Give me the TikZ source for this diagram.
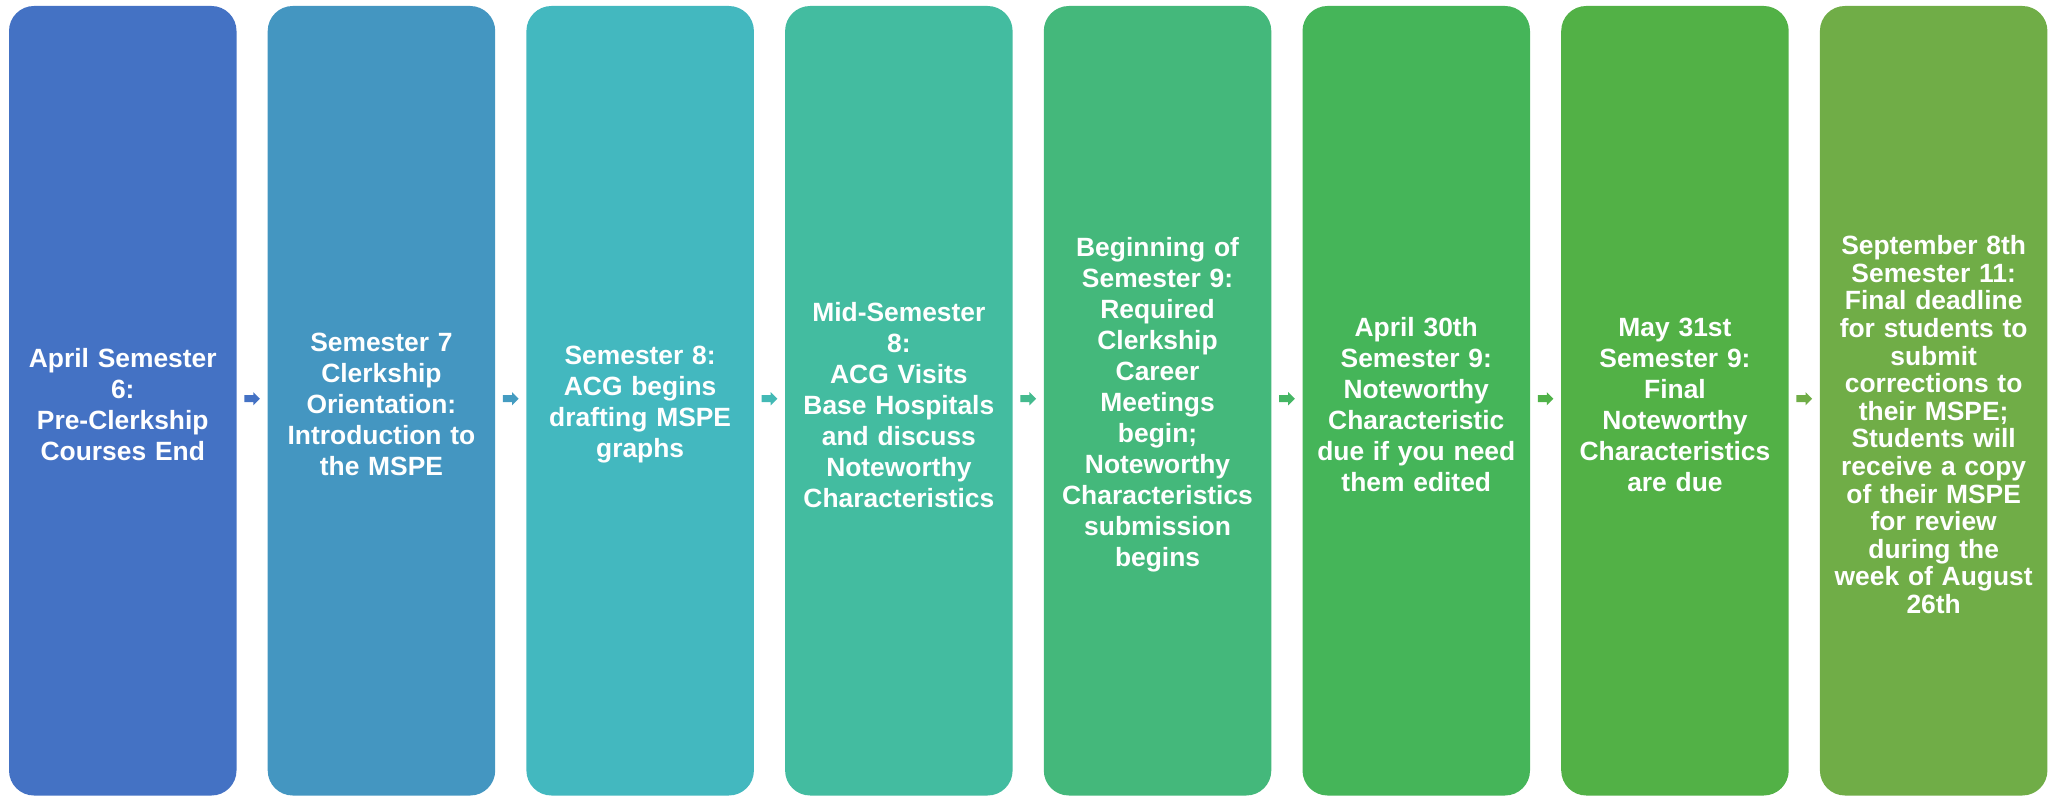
\documentclass[tikz,border=0pt]{standalone}
\usepackage{fontspec}
\setmainfont{Liberation Sans}
\usetikzlibrary{calc}
\definecolor{c1}{HTML}{4472C4}
\definecolor{c2}{HTML}{4496C1}
\definecolor{c3}{HTML}{43B8BF}
\definecolor{c4}{HTML}{43BCA0}
\definecolor{c5}{HTML}{44B87B}
\definecolor{c6}{HTML}{45B559}
\definecolor{c7}{HTML}{52B146}
\definecolor{c8}{HTML}{70AD47}
\colorlet{a1}{c1}
\colorlet{a2}{c2!83!c3}
\colorlet{a3}{c3!67!c4}
\colorlet{a4}{c4!50!c5}
\colorlet{a5}{c5!33!c6}
\colorlet{a6}{c6!17!c7}
\colorlet{a7}{c8}
\tikzset{
  stagebox/.style={rounded corners=25pt, minimum width=227.5pt, minimum height=789.5pt,
    inner sep=0pt},
  stagetext/.style={inner sep=0pt, text width=222pt, align=center, text=white,
    font=\fontsize{26.4}{31}\selectfont\bfseries}
}
\begin{document}
\begin{tikzpicture}[x=1pt,y=1pt]
\useasboundingbox (0,0) rectangle (2049,796);
\foreach \k/\x in {1/122.75,2/381.45,3/640.15,4/898.85,5/1157.55,6/1416.25,7/1674.95,8/1933.65}{
  \node[stagebox, fill=c\k] (b\k) at (\x,395.25) {};
}
\node[stagetext] (t1) at ($(b1.center)+(0,-4)$) {April Semester\\6:\\Pre-Clerkship\\Courses End};
\node[stagetext] (t2) at ($(b2.center)+(0,-4)$) {Semester 7\\Clerkship\\Orientation:\\Introduction to\\the MSPE};
\node[stagetext] (t3) at ($(b3.center)+(0,-4)$) {Semester 8:\\ACG begins\\drafting MSPE\\graphs};
\node[stagetext] (t4) at ($(b4.center)+(0,-4)$) {Mid-Semester\\8:\\ACG Visits\\Base Hospitals\\and discuss\\Noteworthy\\Characteristics};
\node[stagetext] (t5) at ($(b5.center)+(0,-4)$) {Beginning of\\Semester 9:\\Required\\Clerkship\\Career\\Meetings\\begin;\\Noteworthy\\Characteristics\\submission\\begins};
\node[stagetext] (t6) at ($(b6.center)+(0,-4)$) {April 30th\\Semester 9:\\Noteworthy\\Characteristic\\due if you need\\them edited};
\node[stagetext] (t7) at ($(b7.center)+(0,-4)$) {May 31st\\Semester 9:\\Final\\Noteworthy\\Characteristics\\are due};
\node[stagetext, font=\fontsize{26.4}{27.6}\selectfont\bfseries] (t8) at ($(b8.center)+(0,-24)$) {September 8th\\Semester 11:\\Final deadline\\for students to\\submit\\corrections to\\their MSPE;\\Students will\\receive a copy\\of their MSPE\\for review\\during the\\week of August\\26th};
\foreach \i/\j in {1/2,2/3,3/4,4/5,5/6,6/7,7/8}{
  \coordinate (m\i) at ($(b\i.east)!0.5!(b\j.west)+(0,2)$);
  \fill[a\i] ($(m\i)+(-7.85,3.5)$) -- ($(m\i)+(1.2,3.5)$) -- ($(m\i)+(1.2,6.65)$)
     -- ($(m\i)+(7.85,0)$) -- ($(m\i)+(1.2,-6.65)$) -- ($(m\i)+(1.2,-3.5)$)
     -- ($(m\i)+(-7.85,-3.5)$) -- cycle;
}
\end{tikzpicture}
\end{document}
